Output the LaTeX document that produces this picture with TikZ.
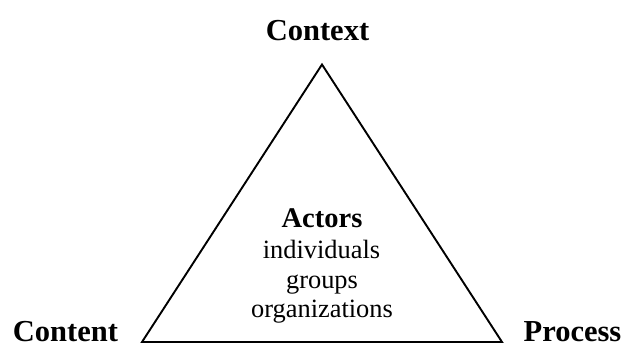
\documentclass[tikz,border=0pt]{standalone}
\usepackage{fontspec}
\setmainfont{Liberation Serif}
\tikzset{
  corner/.style={font=\fontsize{30.5}{34}\selectfont\bfseries, anchor=base, inner sep=0pt},
  actorhead/.style={font=\fontsize{28.5}{32}\selectfont\bfseries, anchor=base, inner sep=0pt},
  actoritem/.style={font=\fontsize{26.4}{30}\selectfont, anchor=base, inner sep=0pt},
  tri/.style={draw=black, line width=1.9pt, line join=miter}
}
\begin{document}
\begin{tikzpicture}[x=1pt,y=-1pt]
\useasboundingbox (0,0) rectangle (625,345);
\coordinate (apex) at (322,64.5);
\coordinate (bl) at (142,342);
\coordinate (br) at (502,342);
\draw[tri] (apex) -- (bl) -- (br) -- cycle;
\node[corner] (context) at (317.5,41) {Context};
\node[corner] (content) at (65.5,341.5) {Content};
\node[corner] (process) at (572.5,341.5) {Process};
\node[actorhead] (actors) at (322,227.5) {Actors};
\node[actoritem] (indiv) at (321.5,258.5) {individuals};
\node[actoritem] (groups) at (322,288.5) {groups};
\node[actoritem] (orgs) at (322,317.5) {organizations};
\end{tikzpicture}
\end{document}
